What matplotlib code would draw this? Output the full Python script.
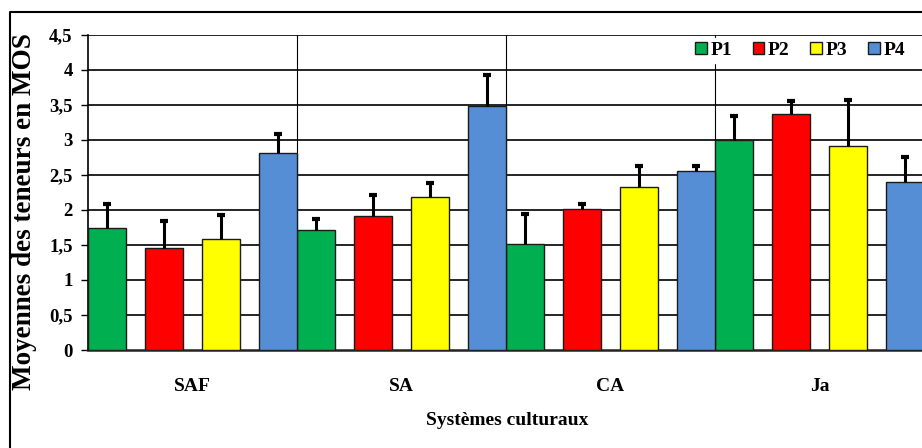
import matplotlib
matplotlib.use("Agg")
import matplotlib.pyplot as plt
from matplotlib.lines import Line2D
import numpy as np

categories = ["SAF", "SA", "CA", "Ja"]
series = ["P1", "P2", "P3", "P4"]
colors = ["#00B050", "#FF0000", "#FFFF00", "#558ED5"]
values = {
    "P1": [1.74, 1.71, 1.51, 3.00],
    "P2": [1.46, 1.92, 2.02, 3.37],
    "P3": [1.59, 2.18, 2.33, 2.91],
    "P4": [2.82, 3.48, 2.56, 2.40],
}
errors = {
    "P1": [0.35, 0.16, 0.43, 0.34],
    "P2": [0.38, 0.30, 0.07, 0.19],
    "P3": [0.34, 0.21, 0.30, 0.66],
    "P4": [0.27, 0.45, 0.07, 0.36],
}
yticks = [0, 0.5, 1, 1.5, 2, 2.5, 3, 3.5, 4, 4.5]
ytick_labels = ["0", "0,5", "1", "1,5", "2", "2,5", "3", "3,5", "4", "4,5"]

plt.rcParams["font.family"] = ["Liberation Serif", "DejaVu Serif"]
plt.rcParams["font.weight"] = "bold"

W, H = 922, 448
fig = plt.figure(figsize=(W / 100, H / 100), dpi=100)
ax = fig.add_axes([88 / W, 1 - 350 / H, (W - 88) / W, 315 / H])

bw = 2 / 11
step = 3 / 11
x0 = np.arange(len(categories))
for j, s in enumerate(series):
    xs = x0 + j * step
    v = np.array(values[s])
    e = np.array(errors[s])
    ax.bar(xs, v, width=bw, align="edge", color=colors[j],
           edgecolor="#1a1a1a", linewidth=1.0, zorder=3, label=s)
    ax.vlines(xs + bw / 2, v, v + e, color="black", linewidth=2.2, zorder=4)
    ax.scatter(xs + bw / 2, v + e, marker="_", s=40, linewidths=3,
               color="black", zorder=4)

ax.set_xlim(0, (W - 88) / 209)
ax.set_ylim(0, 4.5)
ax.set_yticks(yticks)
ax.set_yticklabels(ytick_labels, fontsize=13.5, fontweight="bold")
for y in yticks[1:]:
    ax.axhline(y, color="black", linewidth=1.2, zorder=1)
for xv in [1, 2, 3]:
    ax.axvline(xv, color="black", linewidth=0.8, zorder=1)

ax.set_xticks(x0 + 0.5)
ax.set_xticklabels(categories, fontsize=14, fontweight="bold")
ax.tick_params(axis="x", length=0, pad=20)
ax.tick_params(axis="y", length=5, width=1, pad=6, direction="out")

for side in ["top", "right"]:
    ax.spines[side].set_visible(False)
ax.spines["left"].set_linewidth(1.2)
ax.spines["bottom"].set_linewidth(1.8)
ax.spines["bottom"].set_color("#222222")

leg = ax.legend(loc="center right", bbox_to_anchor=(0.996, 0.952), ncol=4,
                frameon=True, facecolor="white", edgecolor="white", framealpha=1,
                handlelength=0.6, handleheight=0.6,
                handletextpad=0.2, columnspacing=1.05, borderpad=0.2,
                prop={"weight": "bold", "size": 14})
leg.set_zorder(5)

fig.text(507 / W, 1 - 420 / H, "Systèmes culturaux", ha="center", va="center",
         fontsize=14, fontweight="bold")
fig.text(25 / W, 1 - 212 / H, "Moyennes des teneurs en MOS", ha="center",
         va="center", rotation=90, fontsize=19.5, fontweight="bold")

fig.add_artist(Line2D([10 / W, 10 / W, 1], [0, 1 - 12 / H, 1 - 12 / H],
                      transform=fig.transFigure, color="black", linewidth=1.5))

fig.savefig("out.png", dpi=100)
